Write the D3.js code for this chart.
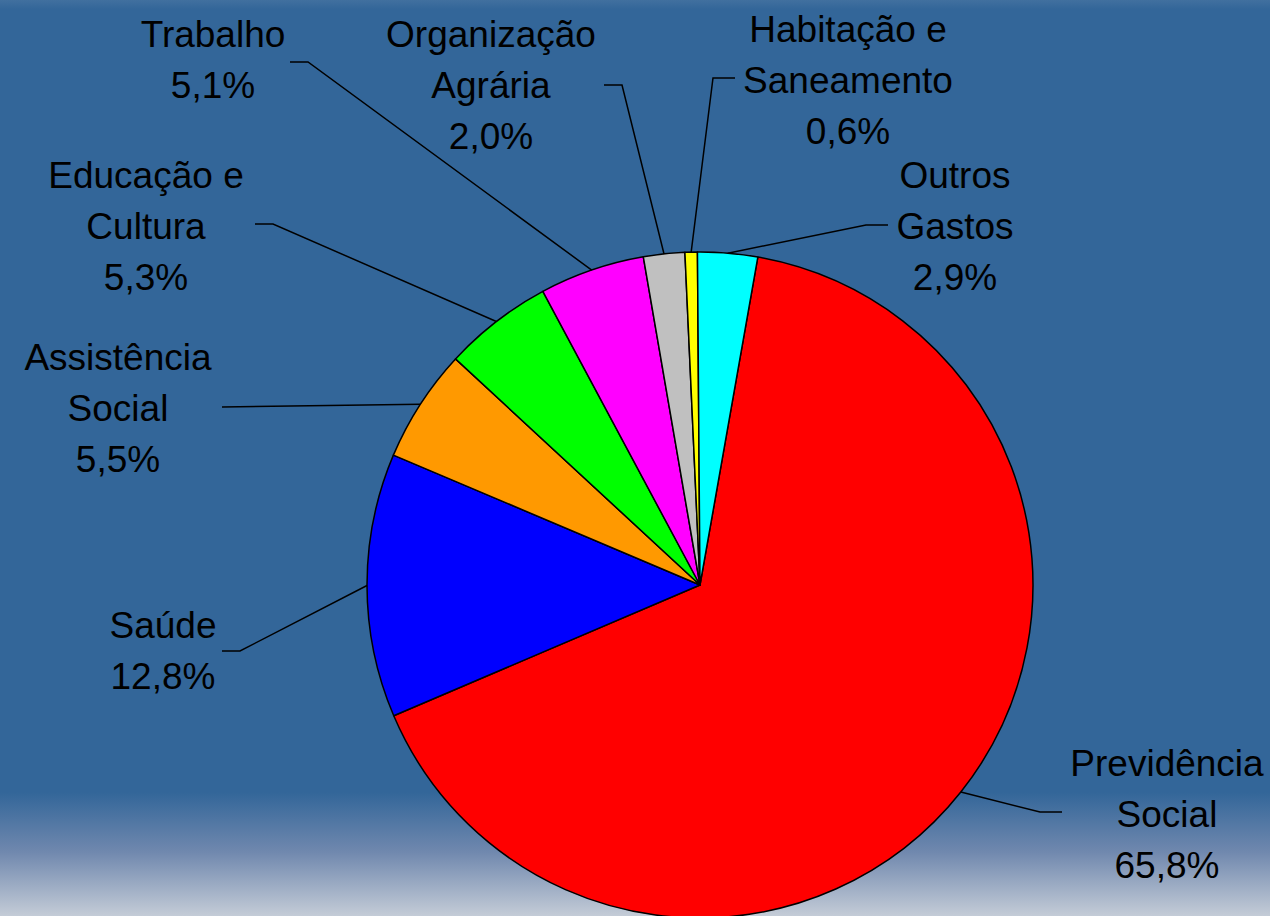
<!DOCTYPE html>
<html>
<head>
<meta charset="utf-8">
<script src="https://cdn.jsdelivr.net/npm/d3@7"></script>
<style>
  html, body { margin: 0; padding: 0; }
  svg { display: block; }
  text { font-family: "Liberation Sans", Arial, sans-serif; font-size: 37px; fill: #000; }
</style>
</head>
<body>
<svg id="chart" width="1270" height="916"></svg>
<script>
// data (clockwise order, starting after Outros Gastos)
var categories = [
  ["Previdência", "Social"],
  ["Saúde"],
  ["Assistência", "Social"],
  ["Educação e", "Cultura"],
  ["Trabalho"],
  ["Organização", "Agrária"],
  ["Habitação e", "Saneamento"],
  ["Outros", "Gastos"]
]
var values = [65.8, 12.8, 5.5, 5.3, 5.1, 2.0, 0.6, 2.9]
var colors = ["#ff0000", "#0000ff", "#ff9900", "#00ff00", "#ff00ff", "#c0c0c0", "#ffff00", "#00ffff"]

// label layout: text centre x, first baseline y, side the leader leaves from
var labelPos = [
  {x: 1167, y: 776, side: "left"},
  {x: 163, y: 638, side: "right"},
  {x: 118, y: 370, side: "right"},
  {x: 146, y: 188, side: "right"},
  {x: 213, y: 47, side: "right"},
  {x: 491, y: 47, side: "right"},
  {x: 848, y: 42, side: "left"},
  {x: 955, y: 188, side: "left"}
]
// leader elbow points (start of line next to the label)
var leaderStart = [
  [1062, 812], [222, 651], [222, 407], [255, 224],
  [290, 62], [604, 85], [735, 78], [888, 225]
]
var lineH = 51

var svg = d3.select("#chart")
var W = 1270, H = 916

var defs = svg.append("defs")
var grad = defs.append("linearGradient")
  .attr("id", "bg").attr("x1", 0).attr("y1", 0).attr("x2", 0).attr("y2", 1)
grad.append("stop").attr("offset", "0").attr("stop-color", "#41709f")
grad.append("stop").attr("offset", "0.01").attr("stop-color", "#336699")
grad.append("stop").attr("offset", "0.865").attr("stop-color", "#336699")
grad.append("stop").attr("offset", "0.93").attr("stop-color", "#7088ae")
grad.append("stop").attr("offset", "1").attr("stop-color", "#c4ccd7")

svg.append("rect").attr("width", W).attr("height", H).attr("fill", "url(#bg)")

var cx = 700, cy = 585, r = 333
var startDeg = 10

var pie = d3.pie()
  .sort(null)
  .startAngle(startDeg * Math.PI / 180)
  .endAngle((startDeg + 360) * Math.PI / 180)
  .value(function(d) { return d })

var arcs = pie(values)
var arc = d3.arc().innerRadius(0).outerRadius(r)

var g = svg.append("g").attr("transform", "translate(" + cx + "," + cy + ")")

g.selectAll("path.slice")
  .data(arcs)
  .enter().append("path")
  .attr("class", "slice")
  .attr("d", arc)
  .attr("fill", function(d, i) { return colors[i] })
  .attr("stroke", "#000")
  .attr("stroke-width", 1.5)
  .attr("stroke-linejoin", "round")

// leader lines
var fmt = function(v) { return d3.format(".1f")(v).replace(".", ",") + "%" }

arcs.forEach(function(d, i) {
  var mid = (d.startAngle + d.endAngle) / 2
  var ex = cx + r * Math.sin(mid)
  var ey = cy - r * Math.cos(mid)
  var s = leaderStart[i]
  var elbowX = labelPos[i].side == "right" ? s[0] + 18 : s[0] - 22
  if (i == 2) elbowX = s[0]
  svg.append("path")
    .attr("d", d3.line()([[s[0], s[1]], [elbowX, s[1]], [ex, ey]]))
    .attr("fill", "none")
    .attr("stroke", "#000")
    .attr("stroke-width", 1.5)
})

// labels
categories.forEach(function(lines, i) {
  var p = labelPos[i]
  var t = svg.append("text")
    .attr("text-anchor", "middle")
  lines.concat([fmt(values[i])]).forEach(function(l, k) {
    t.append("tspan")
      .attr("x", p.x)
      .attr("y", p.y + k * lineH)
      .text(l)
  })
})
</script>
</body>
</html>
